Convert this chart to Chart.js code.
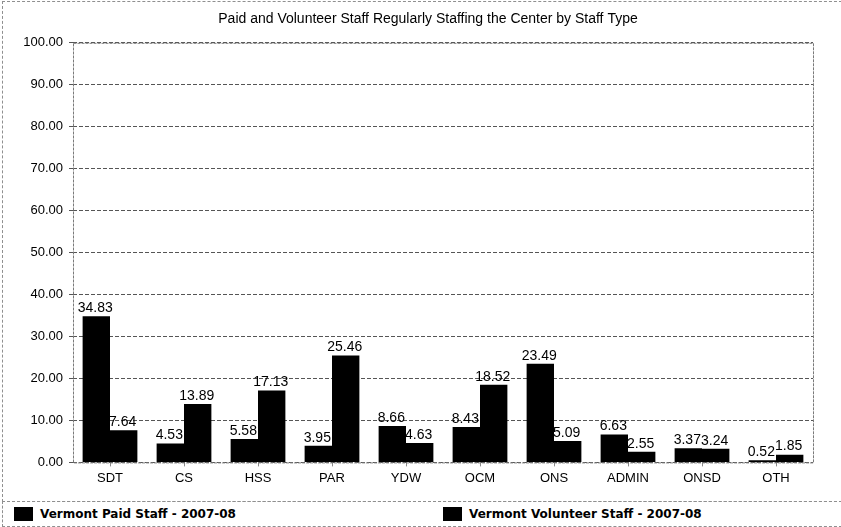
<!DOCTYPE html>
<html lang="en">
<head>
  <meta charset="UTF-8" />
  <title>Paid and Volunteer Staff Regularly Staffing the Center by Staff Type</title>
  <script src="https://cdn.jsdelivr.net/npm/chart.js"></script>
  <style>
    html, body { margin: 0; padding: 0; background: #fff; }
    #wrap { position: relative; width: 841px; height: 527px; overflow: hidden; }
    #frame { position: absolute; left: 2px; top: 1px; width: 845px; height: 501px; border: 1px dashed #8f8f8f; box-sizing: border-box; }
    #chartBox { position: absolute; left: 0; top: 0; width: 841px; height: 500px; }
    #legend { position: absolute; left: 2px; top: 501px; width: 845px; height: 26px; border: 1px dashed #8f8f8f; box-sizing: border-box;
              font-family: "DejaVu Sans", Verdana, sans-serif; font-weight: bold; font-size: 12px; color: #000; }
    .item { position: absolute; top: 5px; height: 14px; line-height: 14px; white-space: nowrap; }
    .item span.sw { display: inline-block; width: 19px; height: 14px; background: #000; vertical-align: top; margin-right: 7px; }
  </style>
</head>
<body>
  <div id="wrap">
    <div id="frame"></div>
    <div id="chartBox"><canvas id="staffChart" width="841" height="500"></canvas></div>
    <div id="legend"></div>
  </div>

  <script>
    // data
    const staffTypes = ["SDT", "CS", "HSS", "PAR", "YDW", "OCM", "ONS", "ADMIN", "ONSD", "OTH"];
    const paidStaff = [34.83, 4.53, 5.58, 3.95, 8.66, 8.43, 23.49, 6.63, 3.37, 0.52];
    const volunteerStaff = [7.64, 13.89, 17.13, 25.46, 4.63, 18.52, 5.09, 2.55, 3.24, 1.85];
    const seriesNames = ["Vermont Paid Staff - 2007-08", "Vermont Volunteer Staff - 2007-08"];
    const yTicks = [0, 10, 20, 30, 40, 50, 60, 70, 80, 90, 100];

    const legendLeft = [14, 443];
    const legend = document.getElementById("legend");
    seriesNames.forEach(function (name, i) {
      const div = document.createElement("div");
      div.className = "item";
      div.style.left = (legendLeft[i] - 3) + "px";
      div.innerHTML = '<span class="sw"></span>' + name;
      legend.appendChild(div);
    });

    // box around the plot area
    const plotBorder = {
      id: "plotBorder",
      beforeDatasetsDraw(chart) {
        const a = chart.chartArea, c = chart.ctx;
        c.save();
        c.strokeStyle = "#7a7a7a";
        c.lineWidth = 1;
        c.setLineDash([3, 1]);
        c.strokeRect(a.left + 0.5, a.top + 0.5, a.right - a.left, a.bottom - a.top);
        c.restore();
      }
    };

    // value labels above each bar
    const barLabels = {
      id: "barLabels",
      afterDatasetsDraw(chart) {
        const c = chart.ctx;
        c.save();
        c.font = "14px 'Liberation Sans', Arial, sans-serif";
        c.fillStyle = "#000";
        c.textAlign = "center";
        c.textBaseline = "bottom";
        chart.data.datasets.forEach(function (ds, i) {
          chart.getDatasetMeta(i).data.forEach(function (bar, j) {
            c.fillText(ds.data[j].toFixed(2), bar.x - 1, bar.y - 1);
          });
        });
        c.restore();
      }
    };

    const font = "'Liberation Sans', Arial, sans-serif";

    new Chart(document.getElementById("staffChart"), {
      type: "bar",
      data: {
        labels: staffTypes,
        datasets: [
          { label: seriesNames[0], data: paidStaff, backgroundColor: "#000", borderWidth: 0 },
          { label: seriesNames[1], data: volunteerStaff, backgroundColor: "#000", borderWidth: 0 }
        ]
      },
      options: {
        responsive: false,
        animation: false,
        layout: { padding: { left: 15, right: 0, top: 0, bottom: 10 } },
        datasets: { bar: { categoryPercentage: 0.74, barPercentage: 1.0 } },
        plugins: {
          legend: { display: false },
          tooltip: { enabled: false },
          title: {
            display: true,
            text: "Paid and Volunteer Staff Regularly Staffing the Center by Staff Type",
            color: "#000",
            font: { family: font, size: 14, weight: "normal" },
            padding: { top: 11, bottom: 15 }
          }
        },
        scales: {
          x: {
            grid: { display: true, drawOnChartArea: false, offset: false, tickLength: 4, color: "#8a8a8a" },
            border: { display: false },
            ticks: { color: "#000", padding: 4, font: { family: font, size: 13 } }
          },
          y: {
            min: 0,
            max: 100,
            afterFit(scale) { scale.width = 58; },
            afterBuildTicks(scale) { scale.ticks = yTicks.map(function (v) { return { value: v }; }); },
            grid: { color: "#555", tickLength: 4, lineWidth: 1 },
            border: { display: false, dash: [4, 2] },
            ticks: {
              color: "#000",
              padding: 6,
              font: { family: font, size: 13 },
              callback: function (v) { return Number(v).toFixed(2); }
            }
          },
          // empty right-hand gutter so the plot ends where the original does
          gutter: {
            position: "right",
            display: true,
            grid: { display: false },
            border: { display: false },
            ticks: { display: false },
            afterFit(scale) { scale.width = 28; }
          }
        }
      },
      plugins: [plotBorder, barLabels]
    });
  </script>
</body>
</html>
